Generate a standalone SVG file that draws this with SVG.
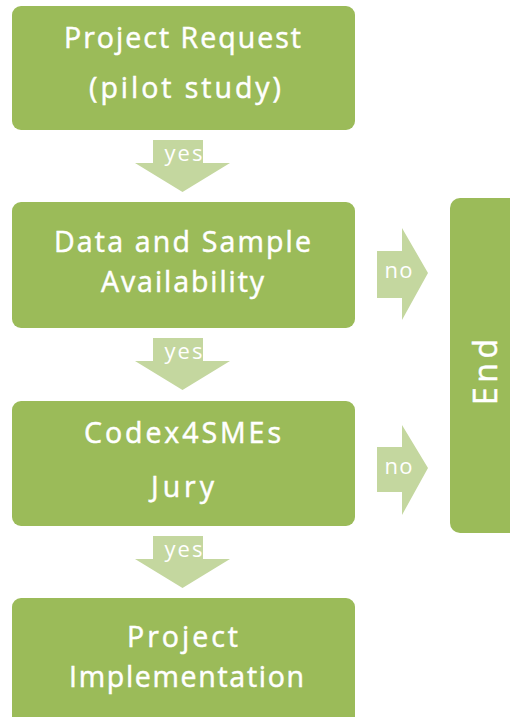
<svg xmlns="http://www.w3.org/2000/svg" width="510" height="717" viewBox="0 0 510 717">
<style>
.box{fill:#9BBB59;}
.arr{fill:#C4D79F;}
.t{font-family:"Open Sans","Liberation Sans",sans-serif;font-size:28.5px;fill:#FFFFFF;stroke:#FFFFFF;stroke-width:0.5px;text-anchor:middle;}
.lbl{font-family:"Open Sans","Liberation Sans",sans-serif;font-size:22px;fill:#FFFFFF;text-anchor:middle;}
</style>
<rect width="510" height="717" fill="#FFFFFF"/>
<g id="connectors">
  <g id="yes1">
    <polygon class="arr" points="153,140 203,140 203,163 230,163 182.5,192 135,163 153,163"/>
    <text class="lbl" x="183.5" y="161" textLength="38" lengthAdjust="spacing">yes</text>
  </g>
  <g id="yes2">
    <polygon class="arr" points="153,338 203,338 203,361 230,361 182.5,390 135,361 153,361"/>
    <text class="lbl" x="183.5" y="359" textLength="38" lengthAdjust="spacing">yes</text>
  </g>
  <g id="yes3">
    <polygon class="arr" points="153,536 203,536 203,559 230,559 182.5,588 135,559 153,559"/>
    <text class="lbl" x="183.5" y="557" textLength="38" lengthAdjust="spacing">yes</text>
  </g>
  <g id="no1">
    <polygon class="arr" points="377,251 402,251 402,228 428,273 402,320 402,298 377,298"/>
    <text class="lbl" x="398.5" y="278" textLength="28" lengthAdjust="spacing">no</text>
  </g>
  <g id="no2">
    <polygon class="arr" points="377,447 402,447 402,425 428,468 402,515 402,492 377,492"/>
    <text class="lbl" x="398.5" y="474" textLength="28" lengthAdjust="spacing">no</text>
  </g>
</g>
<g id="node-request">
  <rect class="box" x="12" y="6" width="343" height="124" rx="9"/>
  <text class="t" x="182.5" y="48" textLength="237" lengthAdjust="spacing">Project Request</text>
  <text class="t" x="185" y="98" textLength="192" lengthAdjust="spacing">(pilot study)</text>
</g>
<g id="node-availability">
  <rect class="box" x="12" y="202" width="343" height="126" rx="9"/>
  <text class="t" x="182.5" y="252" textLength="257" lengthAdjust="spacing">Data and Sample</text>
  <text class="t" x="182.5" y="292" textLength="163" lengthAdjust="spacing">Availability</text>
</g>
<g id="node-jury">
  <rect class="box" x="12" y="401" width="343" height="125" rx="9"/>
  <text class="t" x="182.5" y="443" textLength="197" lengthAdjust="spacing">Codex4SMEs</text>
  <text class="t" x="182.5" y="497" textLength="63" lengthAdjust="spacing">Jury</text>
</g>
<g id="node-implementation">
  <rect class="box" x="12" y="598" width="343" height="140" rx="9"/>
  <text class="t" x="182.5" y="647" textLength="111" lengthAdjust="spacing">Project</text>
  <text class="t" x="186.5" y="687" textLength="235" lengthAdjust="spacing">Implementation</text>
</g>
<g id="node-end">
  <rect class="box" x="450" y="198" width="80" height="335" rx="10"/>
  <text class="t" style="font-size:32px" transform="translate(497,372) rotate(-90)" x="0" y="0" textLength="66" lengthAdjust="spacing">End</text>
</g>
</svg>
